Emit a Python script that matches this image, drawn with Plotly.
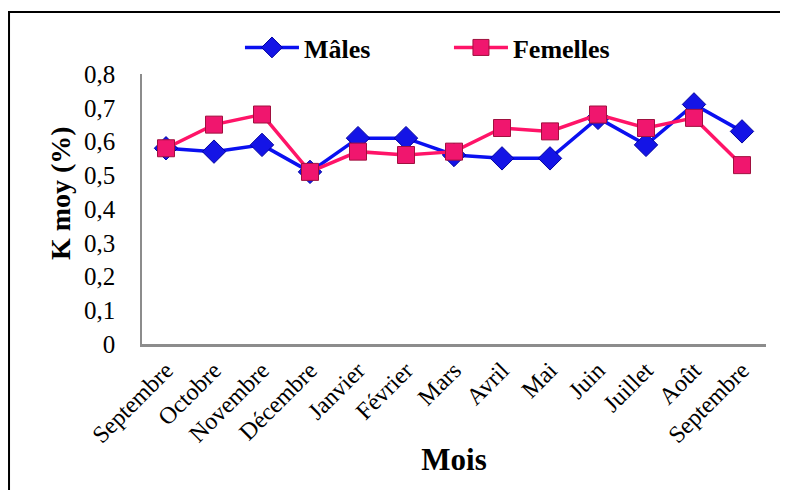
import plotly.graph_objects as go

mois = ["Septembre", "Octobre", "Novembre", "Décembre", "Janvier", "Février", "Mars",
        "Avril", "Mai", "Juin", "Juillet", "Août", "Septembre"]
males = [0.58, 0.57, 0.59, 0.51, 0.61, 0.61, 0.56, 0.55, 0.55, 0.67, 0.59, 0.71, 0.63]
femelles = [0.58, 0.65, 0.68, 0.51, 0.57, 0.56, 0.57, 0.64, 0.63, 0.68, 0.64, 0.67, 0.53]
y_ticks = [0, 0.1, 0.2, 0.3, 0.4, 0.5, 0.6, 0.7, 0.8]
y_ticktext = ["0", "0,1", "0,2", "0,3", "0,4", "0,5", "0,6", "0,7", "0,8"]

idx = list(range(len(mois)))
FONT = "Liberation Serif, Times New Roman, serif"

fig = go.Figure()
fig.add_trace(go.Scatter(
    x=idx, y=males, name="Mâles", mode="lines+markers",
    line=dict(color="#0A10F0", width=3.5),
    marker=dict(symbol="diamond", size=18, color="#1414E6",
                line=dict(color="#0000A0", width=1)),
))
fig.add_trace(go.Scatter(
    x=idx, y=femelles, name="Femelles", mode="lines+markers",
    line=dict(color="#FF1468", width=3.5),
    marker=dict(symbol="square", size=17, color="#F0166E",
                line=dict(color="#A0103F", width=1)),
))

fig.update_layout(
    width=788, height=490,
    margin=dict(l=134, r=30, t=66, b=154),
    paper_bgcolor="white", plot_bgcolor="white",
    font=dict(family=FONT, color="black"),
    showlegend=True,
    legend=dict(orientation="h", x=0.157, y=1.185, xanchor="left", yanchor="top",
                font=dict(family=FONT, size=26, color="black", weight="bold"),
                entrywidth=140, itemwidth=54, bgcolor="rgba(0,0,0,0)"),
    xaxis=dict(
        tickmode="array", tickvals=idx, ticktext=mois,
        range=[-0.5, len(mois) - 0.5],
        tickangle=-45, tickfont=dict(family=FONT, size=24, color="black"),
        showgrid=False, zeroline=False, showline=True, linecolor="#8C8C8C", linewidth=2.5,
        ticks="",
        title=dict(text="Mois", font=dict(family=FONT, size=31, color="black", weight="bold"),
                   standoff=2),
    ),
    yaxis=dict(
        tickmode="array", tickvals=y_ticks, ticktext=y_ticktext,
        range=[0, 0.8],
        tickfont=dict(family=FONT, size=25, color="black"),
        showgrid=False, zeroline=False, showline=True, linecolor="#8C8C8C", linewidth=1.5,
        ticks="", ticklabelstandoff=20,
    ),
    annotations=[dict(text="K moy (%)", xref="paper", yref="paper",
                      x=-0.1314, y=0.559, xanchor="center", yanchor="middle",
                      textangle=-90, showarrow=False,
                      font=dict(family=FONT, size=28, color="black", weight="bold"))],
    shapes=[dict(type="rect", xref="paper", yref="paper",
                 x0=-0.2131, x1=1.1, y0=-0.6, y1=1.2296,
                 line=dict(color="black", width=2), layer="below")],
)

fig.write_html("out.html")
